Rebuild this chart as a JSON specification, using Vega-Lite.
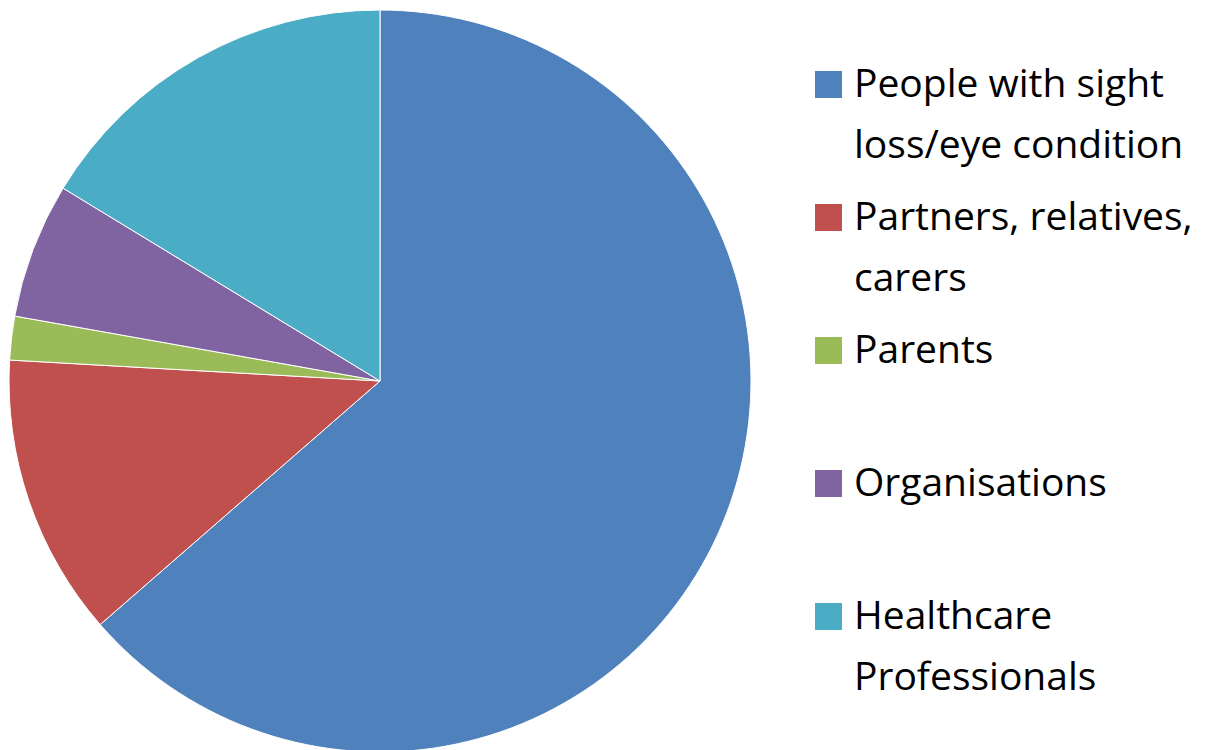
{
  "$schema": "https://vega.github.io/schema/vega-lite/v6.json",
  "width": 760,
  "height": 742,
  "padding": {"top": 8, "left": 0, "right": 0, "bottom": 0},
  "background": "white",
  "config": {"view": {"stroke": null}, "font": "Open Sans", "style": {"guide-label": {"lineHeight": 61}}},
  "data": {
    "values": [
      {"group": "People with sight loss/eye condition", "order": 1, "share": 63.6},
      {"group": "Partners, relatives, carers", "order": 2, "share": 12.3},
      {"group": "Parents", "order": 3, "share": 1.9},
      {"group": "Organisations", "order": 4, "share": 5.9},
      {"group": "Healthcare Professionals", "order": 5, "share": 16.3}
    ]
  },
  "mark": {"type": "arc", "stroke": "white", "strokeWidth": 1},
  "encoding": {
    "theta": {"field": "share", "type": "quantitative", "stack": true},
    "order": {"field": "order", "type": "quantitative"},
    "color": {
      "field": "group",
      "type": "nominal",
      "sort": ["People with sight loss/eye condition", "Partners, relatives, carers", "Parents", "Organisations", "Healthcare Professionals"],
      "scale": {
        "domain": ["People with sight loss/eye condition", "Partners, relatives, carers", "Parents", "Organisations", "Healthcare Professionals"],
        "range": ["#4F81BD", "#C0504D", "#9BBB59", "#8064A2", "#4BACC6"]
      },
      "legend": {
        "orient": "none",
        "legendX": 809,
        "legendY": 55,
        "title": null,
        "symbolType": "square",
        "symbolSize": 729,
        "symbolStrokeWidth": 0,
        "labelFontSize": 39,
        "labelFont": "Open Sans",
        "labelColor": "black",
        "labelLimit": 0,
        "labelOffset": 6,
        "rowPadding": 32,
        "labelExpr": "datum.label == 'People with sight loss/eye condition' ? ['People with sight', 'loss/eye condition'] : datum.label == 'Partners, relatives, carers' ? ['Partners, relatives,', 'carers'] : datum.label == 'Healthcare Professionals' ? ['Healthcare', 'Professionals'] : [datum.label, '']"
      }
    }
  }
}
